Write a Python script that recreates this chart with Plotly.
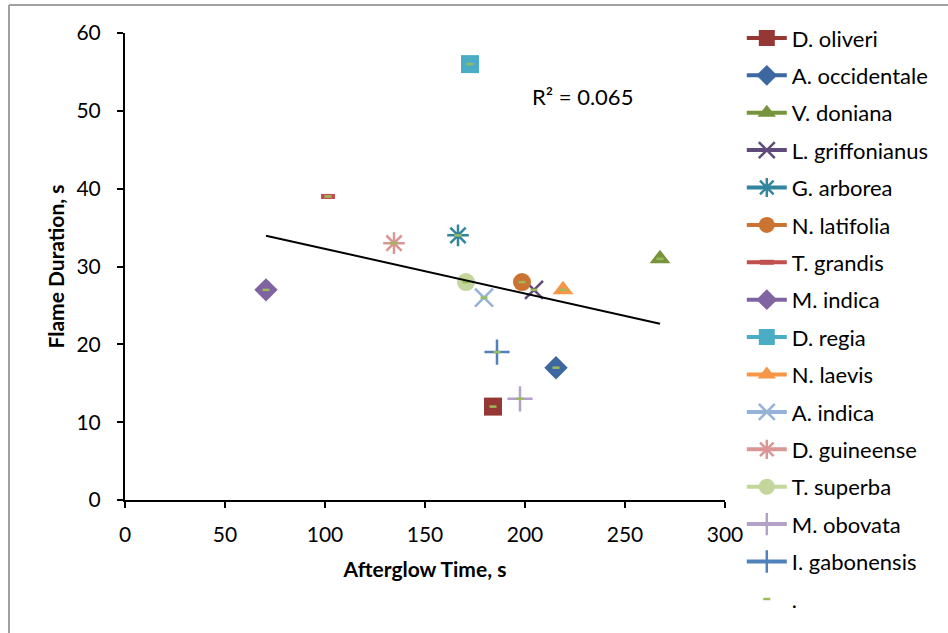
import numpy as np
import plotly.graph_objects as go

species = ["D. oliveri", "A. occidentale", "V. doniana", "L. griffonianus", "G. arborea",
           "N. latifolia", "T. grandis", "M. indica", "D. regia", "N. laevis",
           "A. indica", "D. guineense", "T. superba", "M. obovata", "I. gabonensis"]
afterglow = [184, 215.5, 267.5, 204.5, 166.5, 198.5, 101.5, 70.5, 172.5, 219, 179.5, 134.5, 170.5, 197.5, 186]
flame = [12, 17, 31, 27, 34, 28, 39, 27, 56, 27, 26, 33, 28, 13, 19]
colors = ["#953735", "#3C67A0", "#77933C", "#604A7B", "#31859C", "#CB7431", "#C0504D",
          "#8064A2", "#4BACC6", "#F79646", "#95B3D7", "#D99694", "#C3D69B", "#B3A2C7", "#4F81BD"]
symbols = ["square", "diamond", "triangle-up", "x-thin", "asterisk", "circle", "line-ew",
           "diamond", "square", "triangle-up", "x-thin", "asterisk", "circle", "cross-thin", "cross-thin"]
r2_label = "R² = 0.065"

fig = go.Figure()
for i, name in enumerate(species):
    sym = symbols[i]
    thin = sym in ("x-thin", "asterisk", "cross-thin", "line-ew")
    marker = dict(symbol=sym, size=18, color=colors[i])
    if sym == "line-ew":
        marker.update(size=10, line=dict(color=colors[i], width=5))
    elif thin:
        marker.update(line=dict(color=colors[i], width=2.5))
    else:
        marker.update(line=dict(width=0))
    fig.add_trace(go.Scatter(x=[afterglow[i]], y=[flame[i]], mode="lines+markers", name=name,
                             line=dict(color=colors[i], width=4), marker=marker,
                             legendgroup=name, showlegend=True))

# combined series "." with small dashes
fig.add_trace(go.Scatter(x=afterglow, y=flame, mode="markers", name=".",
                         marker=dict(symbol="line-ew", size=5, color="#9BBB59",
                                     line=dict(color="#9BBB59", width=2.5)),
                         legendgroup="dot"))

# linear trendline
xa = np.array(afterglow)
ya = np.array(flame)
m, b = np.polyfit(xa, ya, 1)
xl = np.array([xa.min(), xa.max()])
fig.add_trace(go.Scatter(x=xl, y=m * xl + b, mode="lines", line=dict(color="black", width=2),
                         showlegend=False, hoverinfo="skip"))

fig.add_annotation(x=228.5, y=51.8, text=r2_label, showarrow=False,
                   font=dict(size=22, color="black", family="Lato"))

W, H = 948, 633
L, R, T, B = 125, 223, 33, 133
pw, ph = W - L - R, H - T - B
# outer chart border (gray), top-left corner visible
x0 = (9 - L) / pw
y1 = (H - B - 5) / ph
fig.add_shape(type="line", xref="paper", yref="paper", x0=x0, x1=(W + 20 - L) / pw, y0=y1, y1=y1,
              line=dict(color="#A0A0A0", width=2))
fig.add_shape(type="line", xref="paper", yref="paper", x0=x0, x1=x0, y0=y1, y1=-(B + 20) / ph,
              line=dict(color="#A0A0A0", width=2))

fig.update_layout(
    width=W, height=H,
    margin=dict(l=L, r=R, t=T, b=B, autoexpand=False),
    paper_bgcolor="white", plot_bgcolor="white",
    font=dict(family="Lato", size=21, color="black"),
    showlegend=True,
    legend=dict(x=1.028, y=1.034, xanchor="left", yanchor="top", traceorder="grouped",
                tracegroupgap=5.8, font=dict(size=22, family="Lato"), itemwidth=40,
                maxheight=633, bgcolor="rgba(0,0,0,0)"),
    xaxis=dict(range=[0, 300], tickvals=[0, 50, 100, 150, 200, 250, 300], showgrid=False,
               zeroline=False, showline=True, linecolor="black", linewidth=2,
               ticks="outside", ticklen=6, tickwidth=2, tickcolor="black", ticklabelstandoff=9,
               title=dict(text="<b>Afterglow Time, s</b>", font=dict(size=21), standoff=17)),
    yaxis=dict(range=[0, 60], tickvals=[0, 10, 20, 30, 40, 50, 60], showgrid=False,
               zeroline=False, showline=True, linecolor="black", linewidth=2,
               ticks="outside", ticklen=6, tickwidth=2, tickcolor="black", ticklabelstandoff=12,
               title=dict(text="<b>Flame Duration, s</b>", font=dict(size=21), standoff=6)),
)

fig.write_html("out.html")
